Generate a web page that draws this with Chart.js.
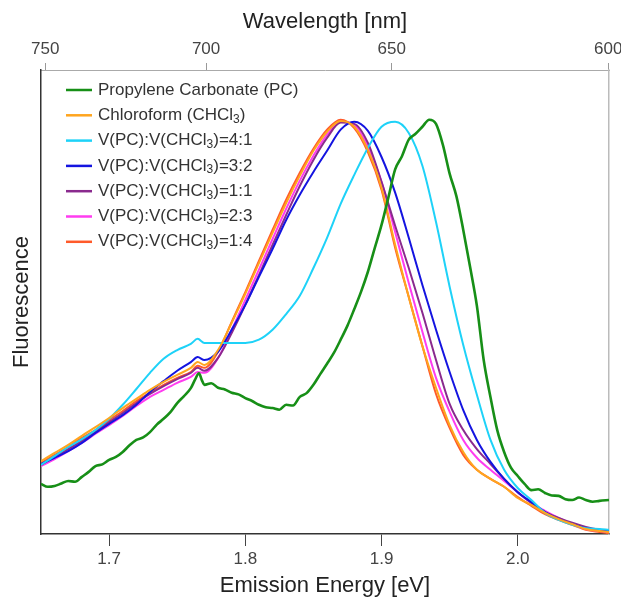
<!DOCTYPE html>
<html>
<head>
<meta charset="utf-8">
<script src="https://cdn.jsdelivr.net/npm/chart.js@4.4.1/dist/chart.umd.min.js"></script>
<style>
  html, body { margin: 0; padding: 0; background: #fff; overflow: hidden; }
  #wrap { width: 621px; height: 599px; position: relative; }
</style>
</head>
<body>
<div id="wrap"><canvas id="chart"></canvas></div>
<script>
'use strict';

// emission energy grid [eV] for the mixture / chloroform spectra
const energy = [1.650, 1.66, 1.67, 1.68, 1.69, 1.70, 1.71, 1.72, 1.73, 1.74, 1.75, 1.76, 1.765,
  1.77, 1.78, 1.79, 1.80, 1.81, 1.82, 1.83, 1.84, 1.85, 1.86, 1.87, 1.88, 1.89, 1.90, 1.91, 1.92,
  1.93, 1.94, 1.95, 1.96, 1.97, 1.98, 1.99, 2.00, 2.01, 2.02, 2.03, 2.04, 2.05, 2.06, 2.067];

// the PC spectrum is noisy, so it is read on a finer grid
const pcEnergy = [1.650, 1.655, 1.660, 1.665, 1.670, 1.675, 1.680, 1.685, 1.690, 1.695, 1.700, 1.705,
  1.710, 1.715, 1.720, 1.725, 1.730, 1.735, 1.740, 1.745, 1.750, 1.755, 1.760, 1.763, 1.766, 1.768,
  1.770, 1.775, 1.780, 1.785, 1.790, 1.795, 1.800, 1.805, 1.810, 1.815, 1.820, 1.825, 1.830, 1.835,
  1.840, 1.845, 1.850, 1.855, 1.860, 1.865, 1.870, 1.875, 1.880, 1.885, 1.890, 1.895, 1.900, 1.905,
  1.910, 1.915, 1.920, 1.925, 1.930, 1.935, 1.940, 1.945, 1.950, 1.955, 1.960, 1.965, 1.970, 1.975,
  1.980, 1.985, 1.990, 1.995, 2.000, 2.005, 2.010, 2.015, 2.020, 2.025, 2.030, 2.035, 2.040, 2.045,
  2.050, 2.055, 2.060, 2.067];

// normalised fluorescence
const pc    = [0.121, 0.114, 0.116, 0.122, 0.128, 0.126, 0.138, 0.150, 0.164, 0.168, 0.179, 0.186,
  0.198, 0.214, 0.227, 0.233, 0.246, 0.264, 0.278, 0.294, 0.316, 0.333, 0.352, 0.372, 0.388, 0.372,
  0.360, 0.364, 0.353, 0.349, 0.341, 0.337, 0.328, 0.321, 0.312, 0.306, 0.304, 0.300, 0.312, 0.310,
  0.331, 0.340, 0.360, 0.386, 0.411, 0.437, 0.469, 0.503, 0.543, 0.585, 0.633, 0.690, 0.746, 0.812,
  0.880, 0.912, 0.952, 0.966, 0.983, 1.000, 0.990, 0.940, 0.870, 0.815, 0.734, 0.645, 0.551, 0.420,
  0.330, 0.250, 0.198, 0.160, 0.140, 0.121, 0.106, 0.108, 0.099, 0.093, 0.092, 0.084, 0.082, 0.088,
  0.082, 0.078, 0.080, 0.082];
const chcl3 = [0.176, 0.196, 0.215, 0.237, 0.258, 0.280, 0.304, 0.326, 0.348, 0.367, 0.384, 0.401, 0.415,
  0.408, 0.444, 0.510, 0.580, 0.654, 0.727, 0.799, 0.865, 0.925, 0.971, 0.997, 0.983, 0.927, 0.836, 0.698, 0.572,
  0.454, 0.353, 0.263, 0.198, 0.155, 0.133, 0.114, 0.087, 0.070, 0.051, 0.036, 0.024, 0.012, 0.007, 0.005];
const r41   = [0.167, 0.188, 0.210, 0.229, 0.251, 0.278, 0.312, 0.350, 0.389, 0.423, 0.444, 0.459, 0.471,
  0.461, 0.461, 0.461, 0.461, 0.469, 0.493, 0.531, 0.575, 0.642, 0.715, 0.797, 0.867, 0.932, 0.983, 0.995, 0.968,
  0.889, 0.753, 0.597, 0.456, 0.336, 0.227, 0.155, 0.111, 0.082, 0.051, 0.034, 0.022, 0.014, 0.012, 0.010];
const r32   = [0.169, 0.184, 0.200, 0.220, 0.244, 0.266, 0.287, 0.312, 0.343, 0.369, 0.394, 0.415, 0.427,
  0.420, 0.440, 0.493, 0.553, 0.621, 0.688, 0.758, 0.819, 0.874, 0.925, 0.976, 0.995, 0.973, 0.910, 0.824, 0.715,
  0.601, 0.493, 0.391, 0.299, 0.227, 0.174, 0.133, 0.101, 0.077, 0.053, 0.036, 0.024, 0.014, 0.010, 0.007];
const r11   = [0.167, 0.186, 0.205, 0.225, 0.246, 0.270, 0.292, 0.316, 0.338, 0.357, 0.374, 0.389, 0.401,
  0.394, 0.425, 0.485, 0.553, 0.625, 0.698, 0.770, 0.840, 0.903, 0.956, 0.993, 0.990, 0.944, 0.850, 0.744, 0.642,
  0.534, 0.420, 0.314, 0.251, 0.205, 0.169, 0.133, 0.101, 0.075, 0.053, 0.039, 0.027, 0.017, 0.010, 0.007];
const r23   = [0.164, 0.181, 0.200, 0.220, 0.242, 0.263, 0.285, 0.309, 0.331, 0.348, 0.365, 0.379, 0.391,
  0.389, 0.425, 0.493, 0.565, 0.638, 0.712, 0.785, 0.853, 0.913, 0.964, 0.995, 0.988, 0.935, 0.850, 0.729, 0.606,
  0.488, 0.377, 0.295, 0.227, 0.184, 0.155, 0.128, 0.101, 0.075, 0.056, 0.039, 0.024, 0.012, 0.007, 0.005];
const r14   = [0.171, 0.191, 0.210, 0.232, 0.251, 0.275, 0.297, 0.321, 0.341, 0.360, 0.377, 0.391, 0.406,
  0.401, 0.440, 0.512, 0.584, 0.659, 0.734, 0.807, 0.872, 0.930, 0.976, 1.000, 0.980, 0.922, 0.831, 0.691, 0.572,
  0.454, 0.338, 0.256, 0.191, 0.155, 0.133, 0.114, 0.089, 0.068, 0.048, 0.034, 0.022, 0.010, 0.005, 0.002];

const energyTicks = [1.7, 1.8, 1.9, 2.0];
const wavelengthTicks = [750, 700, 650, 600];
const HC = 1239.84; // eV*nm

const FONT = "'Liberation Sans', Arial, sans-serif";

const series = [
  { label: 'Propylene Carbonate (PC)', x: pcEnergy, data: pc, color: '#178f17', width: 2.6, tension: 0 },
  { label: 'Chloroform (CHCl₃)',       x: energy, data: chcl3, color: '#ffa51e', width: 2, tension: 0.35 },
  { label: 'V(PC):V(CHCl₃)=4:1',       x: energy, data: r41,   color: '#1ed2f8', width: 2, tension: 0.35 },
  { label: 'V(PC):V(CHCl₃)=3:2',       x: energy, data: r32,   color: '#1414e0', width: 2, tension: 0.35 },
  { label: 'V(PC):V(CHCl₃)=1:1',       x: energy, data: r11,   color: '#8a2a8e', width: 2, tension: 0.35 },
  { label: 'V(PC):V(CHCl₃)=2:3',       x: energy, data: r23,   color: '#ff3cf0', width: 2, tension: 0.35 },
  { label: 'V(PC):V(CHCl₃)=1:4',       x: energy, data: r14,   color: '#ff5a2a', width: 2, tension: 0.35 },
];

// legend drawn inside the plot, top-left, with a real subscript 3
const insideLegend = {
  id: 'insideLegend',
  afterDraw(chart) {
    const { ctx, chartArea } = chart;
    ctx.save();
    ctx.textBaseline = 'middle';
    chart.data.datasets.forEach((ds, i) => {
      const y = chartArea.top + 20 + i * 25.3;
      const x0 = chartArea.left + 25;
      ctx.strokeStyle = ds.borderColor;
      ctx.lineWidth = 2.5;
      ctx.beginPath();
      ctx.moveTo(x0, y);
      ctx.lineTo(x0 + 26, y);
      ctx.stroke();
      let x = x0 + 32;
      ctx.fillStyle = '#333';
      ds.label.split(/(₃)/).forEach(part => {
        if (!part) return;
        if (part === '₃') {
          ctx.font = `12px ${FONT}`;
          ctx.fillText('3', x, y + 4);
          x += ctx.measureText('3').width;
        } else {
          ctx.font = `17px ${FONT}`;
          ctx.fillText(part, x, y);
          x += ctx.measureText(part).width;
        }
      });
    });
    ctx.restore();
  },
};

// fixed axis sizes; drop the extra room Chart.js keeps for edge labels
const fixHeight = h => s => { s.height = h; s.paddingLeft = 0; s.paddingRight = 0; };

new Chart(document.getElementById('chart'), {
  type: 'line',
  data: {
    datasets: series.map(s => ({
      label: s.label,
      data: s.data.map((v, i) => ({ x: s.x[i], y: v })),
      borderColor: s.color,
      backgroundColor: s.color,
      borderWidth: s.width,
      pointRadius: 0,
      tension: s.tension,
      cubicInterpolationMode: 'monotone',
      fill: false,
    })),
  },
  options: {
    responsive: true,
    maintainAspectRatio: false,
    animation: false,
    layout: { padding: 0, autoPadding: false },
    plugins: { legend: { display: false }, tooltip: { enabled: false } },
    scales: {
      x: {
        type: 'linear', position: 'bottom',
        min: 1.650, max: 2.067,
        afterBuildTicks: s => { s.ticks = energyTicks.map(v => ({ value: v })); },
        afterFit: fixHeight(65),
        ticks: { autoSkip: false, maxRotation: 0, color: '#444', padding: 3, font: { family: FONT, size: 17 }, callback: v => v.toFixed(1) },
        grid: { drawOnChartArea: false, drawTicks: true, tickLength: 12, color: '#444', lineWidth: 1 },
        border: { color: '#333', width: 1.5 },
        title: { display: true, text: 'Emission Energy [eV]', color: '#222', font: { family: FONT, size: 22 }, padding: { top: 0, bottom: 0 } },
      },
      x2: {
        type: 'linear', position: 'top',
        min: 1.650, max: 2.067,
        afterBuildTicks: s => { s.ticks = wavelengthTicks.map(w => ({ value: HC / w })); },
        afterFit: fixHeight(70),
        ticks: { autoSkip: false, maxRotation: 0, color: '#444', padding: 3, font: { family: FONT, size: 17 }, callback: (v, i) => String(wavelengthTicks[i]) },
        grid: { drawOnChartArea: false, drawTicks: true, tickLength: 7, color: '#999' },
        border: { color: '#aaa', width: 1 },
        title: { display: true, text: 'Wavelength [nm]', color: '#222', font: { family: FONT, size: 22 }, padding: { top: 9, bottom: 0 } },
      },
      y: {
        type: 'linear', position: 'left',
        min: 0, max: 1.12,
        afterFit: s => { s.width = 41; },
        ticks: { display: false },
        grid: { display: false },
        border: { color: '#333', width: 1.5 },
        title: { display: true, text: 'Fluorescence', color: '#222', font: { family: FONT, size: 22 }, padding: { top: 9, bottom: 0 } },
      },
      y2: {
        type: 'linear', position: 'right',
        min: 0, max: 1.12,
        afterFit: s => { s.width = 12; },
        ticks: { display: false },
        grid: { display: false },
        border: { color: '#bbb', width: 1.5 },
      },
    },
  },
  plugins: [insideLegend],
});
</script>
</body>
</html>
